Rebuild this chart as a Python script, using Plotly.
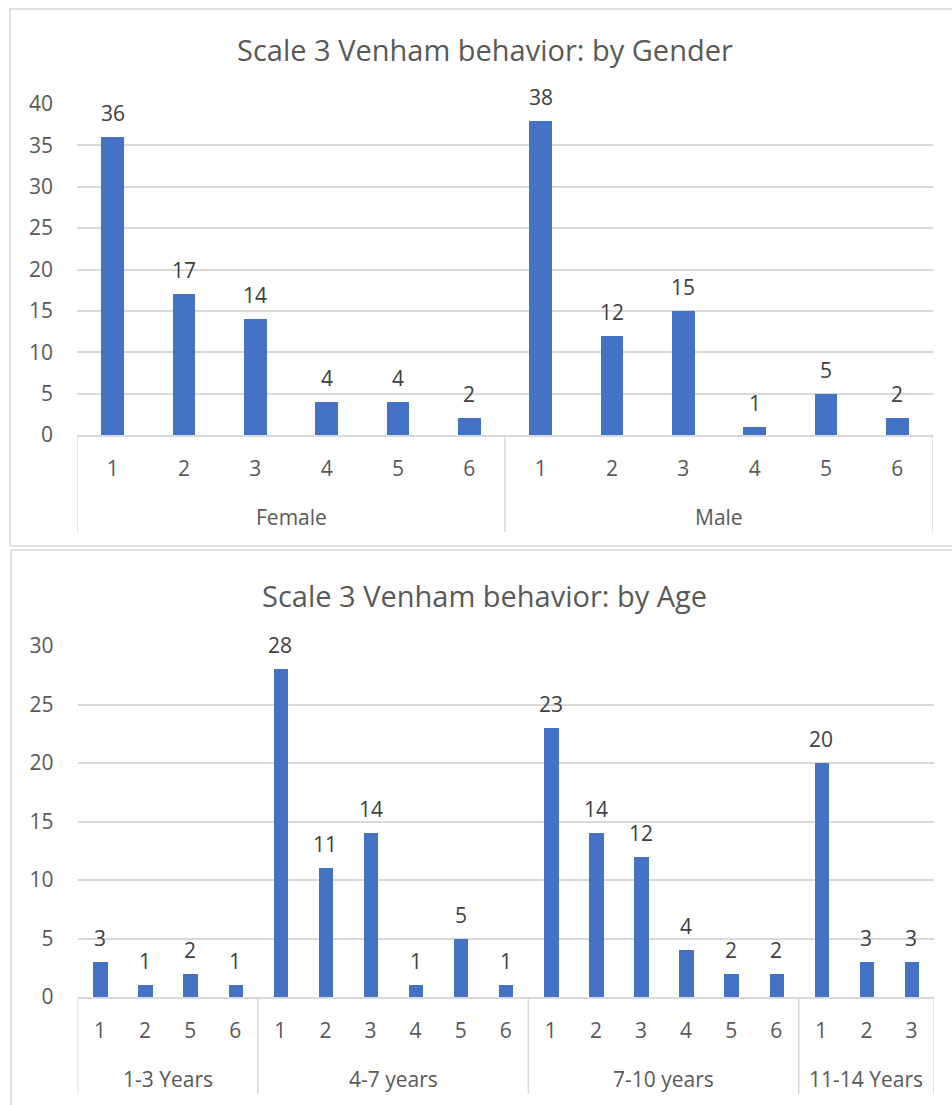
import plotly.graph_objects as go

W, H = 952, 1105

# ---- data -------------------------------------------------------------
gender_groups = ["Female", "Male"]
gender_levels = [["1", "2", "3", "4", "5", "6"], ["1", "2", "3", "4", "5", "6"]]
gender_values = [[36, 17, 14, 4, 4, 2], [38, 12, 15, 1, 5, 2]]

age_groups = ["1-3 Years", "4-7 years", "7-10 years", "11-14 Years"]
age_levels = [["1", "2", "5", "6"],
              ["1", "2", "3", "4", "5", "6"],
              ["1", "2", "3", "4", "5", "6"],
              ["1", "2", "3"]]
age_values = [[3, 1, 2, 1],
              [28, 11, 14, 1, 5, 1],
              [23, 14, 12, 4, 2, 2],
              [20, 3, 3]]

titles = ["Scale 3 Venham behavior: by Gender", "Scale 3 Venham behavior: by Age"]

# ---- styling ----------------------------------------------------------
FONT = "Open Sans"
BAR = "#4472C4"
GRID = "#D9D9D9"
AXIS_TXT = "#595959"
LABEL_TXT = "#404040"
TXT_SIZE = 21


def px_x(p):
    return p / W


def px_y(p):
    return 1 - p / H


fig = go.Figure()
shapes = []
annotations = []

panels = [
    dict(groups=gender_groups, levels=gender_levels, values=gender_values,
         title=titles[0], xdom=(77, 933), ydom=(104, 435), ymax=40,
         title_y=50, box=(10, 9, 975, 546), ax="", ay=""),
    dict(groups=age_groups, levels=age_levels, values=age_values,
         title=titles[1], xdom=(77.5, 934), ydom=(646, 997), ymax=30,
         title_y=595, box=(11, 550, 975, 1120), ax="2", ay="2"),
]

for pnl in panels:
    xs, ys, ticks = [], [], []
    bounds = [-0.5]
    pos = 0
    for lv, vals in zip(pnl["levels"], pnl["values"]):
        for t, v in zip(lv, vals):
            xs.append(pos)
            ys.append(v)
            ticks.append(t)
            pos += 1
        bounds.append(pos - 0.5)
    n = pos
    xa = "x" + pnl["ax"]
    ya = "y" + pnl["ay"]

    fig.add_trace(go.Bar(
        x=xs, y=ys, width=0.32, marker=dict(color=BAR, line=dict(width=0)),
        xaxis=xa, yaxis=ya, showlegend=False, hoverinfo="skip",
    ))

    # value labels above each bar
    for x, v in zip(xs, ys):
        annotations.append(dict(
            x=x, y=v, xref=xa, yref=ya, text=str(v), showarrow=False,
            yanchor="middle", yshift=24,
            font=dict(family=FONT, size=TXT_SIZE, color=LABEL_TXT),
        ))

    # group labels below the inner tick labels
    for g, lo, hi in zip(pnl["groups"], bounds[:-1], bounds[1:]):
        annotations.append(dict(
            x=(lo + hi) / 2, y=0, xref=xa, yref=ya + " domain", text=g,
            showarrow=False, yanchor="middle", yshift=-82,
            font=dict(family=FONT, size=TXT_SIZE, color=AXIS_TXT),
        ))

    # category dividers hanging below the baseline
    for b in bounds:
        shapes.append(dict(
            type="line", xref=xa, yref=ya + " domain", x0=b, x1=b,
            ysizemode="pixel", yanchor=0, y0=0, y1=-97,
            line=dict(color=GRID, width=1.5),
        ))

    # chart title
    annotations.append(dict(
        x=px_x(485), y=px_y(pnl["title_y"]), xref="paper", yref="paper",
        text=pnl["title"], showarrow=False, xanchor="center", yanchor="middle",
        font=dict(family=FONT, size=29, color=AXIS_TXT),
    ))

    # chart frame
    bx0, by0, bx1, by1 = pnl["box"]
    shapes.append(dict(
        type="rect", xref="paper", yref="paper",
        x0=px_x(bx0), x1=px_x(bx1), y0=px_y(by1), y1=px_y(by0),
        line=dict(color=GRID, width=1.5), fillcolor="rgba(0,0,0,0)", layer="below",
    ))

    xkey = "xaxis" + pnl["ax"]
    ykey = "yaxis" + pnl["ay"]
    fig.update_layout(**{
        xkey: dict(
            domain=[px_x(pnl["xdom"][0]), px_x(pnl["xdom"][1])],
            anchor=ya, range=[-0.5, n - 0.5], tickmode="array",
            tickvals=xs, ticktext=ticks, ticks="", showgrid=False,
            showline=True, linecolor=GRID, linewidth=1.5, zeroline=False,
            ticklabelstandoff=14, automargin=False,
            tickfont=dict(family=FONT, size=TXT_SIZE, color=AXIS_TXT),
        ),
        ykey: dict(
            domain=[px_y(pnl["ydom"][1]), px_y(pnl["ydom"][0])],
            anchor=xa, range=[0, pnl["ymax"]], dtick=5, tick0=0,
            showgrid=True, gridcolor=GRID, gridwidth=1.5, zeroline=False,
            showline=False, ticks="", ticklabelstandoff=23, automargin=False,
            tickfont=dict(family=FONT, size=TXT_SIZE, color=AXIS_TXT),
        ),
    })

fig.update_layout(
    width=W, height=H, margin=dict(l=0, r=0, t=0, b=0, autoexpand=False),
    paper_bgcolor="white", plot_bgcolor="white",
    shapes=shapes, annotations=annotations, bargap=0,
)

fig.write_html("out.html")
